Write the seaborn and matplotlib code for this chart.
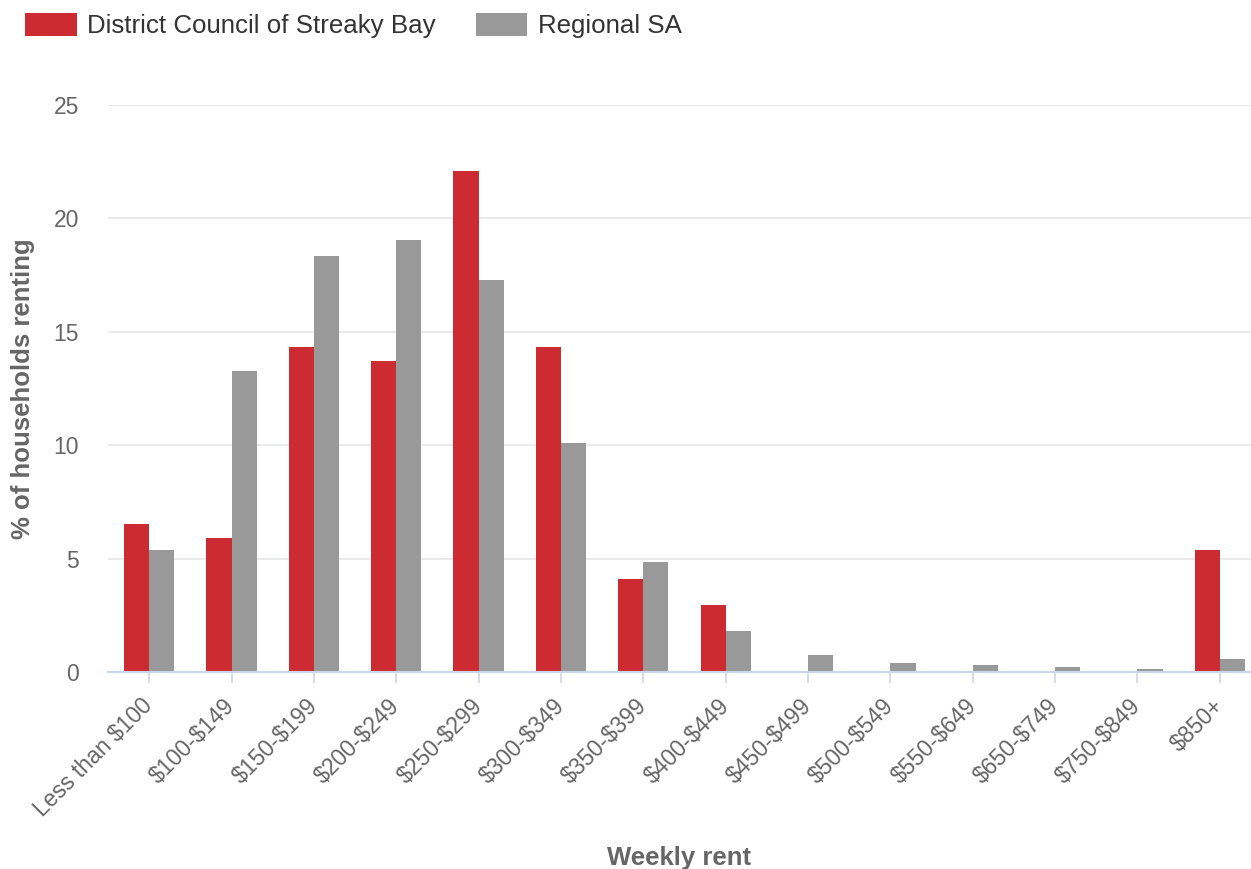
import matplotlib
matplotlib.use("Agg")
import matplotlib.pyplot as plt
from matplotlib.patches import Patch
import seaborn as sns
import pandas as pd

# Weekly rent bands
categories = ["Less than $100", "$100-$149", "$150-$199", "$200-$249", "$250-$299",
              "$300-$349", "$350-$399", "$400-$449", "$450-$499", "$500-$549",
              "$550-$649", "$650-$749", "$750-$849", "$850+"]

# % of renting households in each band
streaky_bay = [6.52, 5.90, 14.34, 13.72, 22.07, 14.34, 4.12, 2.96, 0.0, 0.0, 0.0, 0.0, 0.0, 5.36]
regional_sa = [5.36, 13.28, 18.34, 19.05, 17.28, 10.08, 4.83, 1.81, 0.74, 0.39, 0.30, 0.21, 0.12, 0.56]

series_names = ["District Council of Streaky Bay", "Regional SA"]
series_colors = ["#cc2b32", "#999999"]
y_ticks = [0, 5, 10, 15, 20, 25]

df = pd.DataFrame({
    "band": categories * 2,
    "pct": streaky_bay + regional_sa,
    "area": [series_names[0]] * len(categories) + [series_names[1]] * len(categories),
})

sns.set_theme(style="white")
plt.rcParams["font.family"] = ["Liberation Sans", "DejaVu Sans"]
plt.rcParams["text.parse_math"] = False  # dollar signs are literal text

W, H = 1251, 869
fig = plt.figure(figsize=(W / 100, H / 100), dpi=100)
# plot area runs slightly past the right edge of the canvas
ax = fig.add_axes([108 / W, 1 - 672 / H, 1153 / W, 567 / H])

sns.barplot(data=df, x="band", y="pct", hue="area", order=categories,
            hue_order=series_names, palette=series_colors, width=0.61,
            saturation=1, linewidth=0, ax=ax, legend=False)

text_grey = "#666666"
axis_blue = "#ccd6eb"

ax.set_ylim(0, 25)
ax.set_xlim(-0.5, len(categories) - 0.5)
ax.set_yticks(y_ticks)
ax.set_yticklabels([str(t) for t in y_ticks], fontsize=16.5, color=text_grey)
ax.yaxis.grid(True, color="#e6e6e6", linewidth=1.2)
ax.set_axisbelow(True)
ax.tick_params(axis="y", length=0, pad=21)

ax.set_xticks(range(len(categories)))
ax.set_xticklabels(categories, rotation=45, ha="right", va="center",
                   rotation_mode="anchor", fontsize=16.5, color=text_grey)
ax.tick_params(axis="x", bottom=True, length=8, width=1.2, color=axis_blue, pad=14)

for side in ["left", "right", "top"]:
    ax.spines[side].set_visible(False)
ax.spines["bottom"].set_color(axis_blue)
ax.spines["bottom"].set_linewidth(1.5)

ax.set_xlabel("Weekly rent", fontsize=18.5, fontweight="bold", color=text_grey)
ax.xaxis.set_label_coords((679 - 108) / 1153, -0.306)
ax.set_ylabel("% of households renting", fontsize=18.5, fontweight="bold", color=text_grey)
ax.yaxis.set_label_coords(-73 / 1153, 0.5)

handles = [Patch(facecolor=c, edgecolor="none") for c in series_colors]
fig.legend(handles, series_names, loc="upper left", bbox_to_anchor=(25 / W, 1 - 13 / H),
           ncol=2, frameon=False, fontsize=18.6, handlelength=2.0, handleheight=0.97,
           handletextpad=0.4, columnspacing=1.55, borderpad=0, borderaxespad=0,
           labelcolor="#333333")

fig.savefig("out.png", dpi=100, facecolor="white")
